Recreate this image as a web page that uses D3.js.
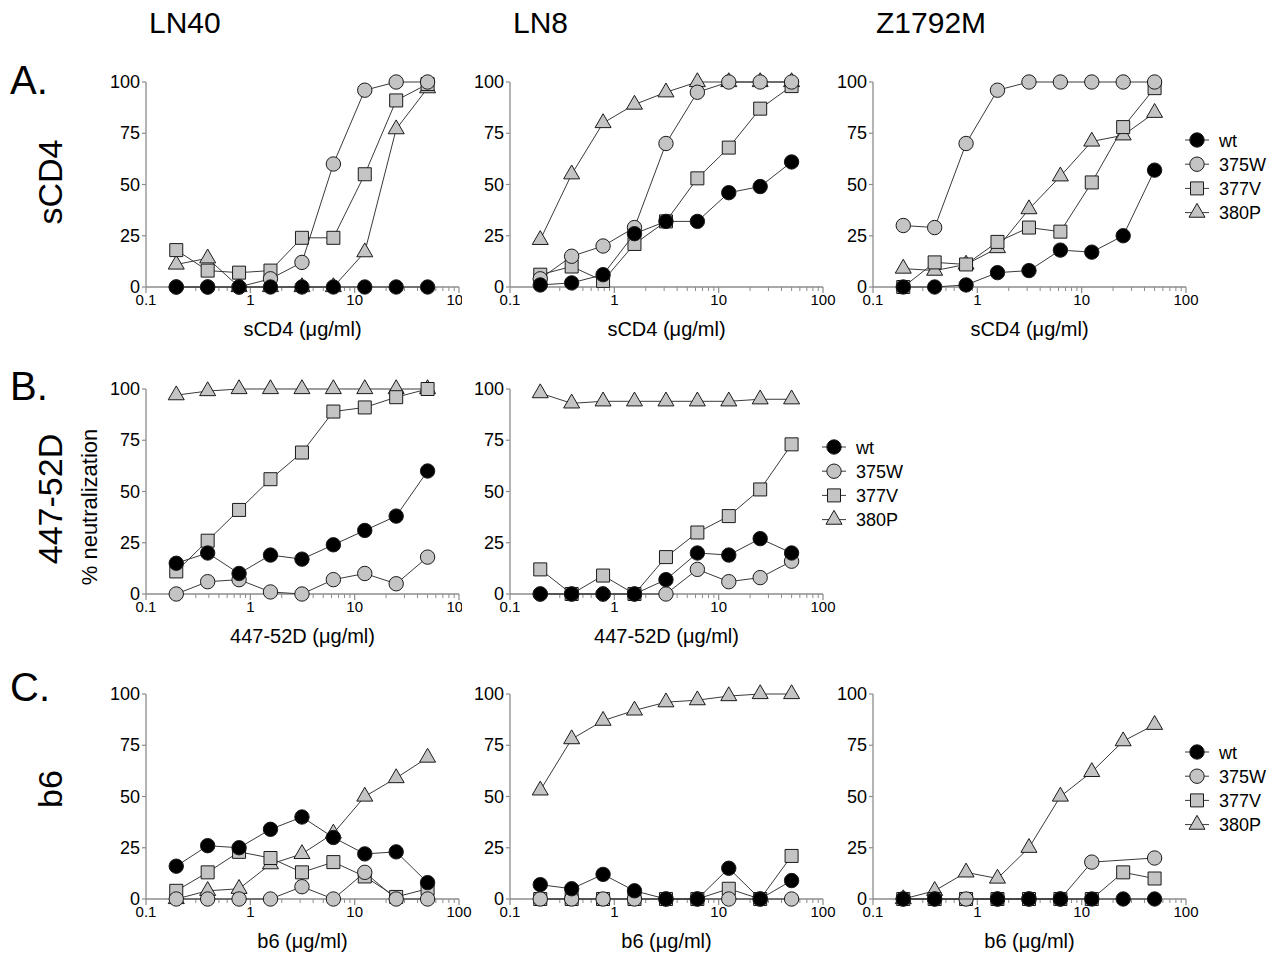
<!DOCTYPE html>
<html><head><meta charset="utf-8">
<script src="https://cdn.jsdelivr.net/npm/d3@7/dist/d3.min.js"></script>
<style>
body{margin:0;background:#fff}
svg{display:block}
text{font-family:"Liberation Sans",Arial,Helvetica,sans-serif;fill:#000}
</style>
</head><body>
<svg id="chart" width="1284" height="957"></svg>
<script>
// ---------- data ----------
const concentrations = [0.195, 0.39, 0.78, 1.56, 3.125, 6.25, 12.5, 25, 50];
const seriesNames = ["wt", "375W", "377V", "380P"];
const viruses = ["LN40", "LN8", "Z1792M"];
const reagents = ["sCD4", "447-52D", "b6"];
const rowLetters = ["A.", "B.", "C."];
const xTickValues = [0.1, 1, 10, 100];
const yTickValues = [0, 25, 50, 75, 100];

// each: [wt, 375W, 377V, 380P]
const sCD4_LN40 = [
  [0, 0, 0, 0, 0, 0, 0, 0, 0],
  [0, 0, 0, 4, 12, 60, 96, 100, 100],
  [18, 8, 7, 8, 24, 24, 55, 91, 99],
  [11, 14, 0, 0, 0, 0, 17, 77, 97]
];
const sCD4_LN8 = [
  [1, 2, 6, 26, 32, 32, 46, 49, 61],
  [4, 15, 20, 29, 70, 95, 100, 100, 100],
  [6, 10, 3, 21, 32, 53, 68, 87, 98],
  [23, 55, 80, 89, 95, 100, 100, 100, 100]
];
const sCD4_Z1792M = [
  [0, 0, 1, 7, 8, 18, 17, 25, 57],
  [30, 29, 70, 96, 100, 100, 100, 100, 100],
  [0, 12, 11, 22, 29, 27, 51, 78, 97],
  [9, 8, 11, 19, 38, 54, 71, 74, 85]
];
const mAb447_LN40 = [
  [15, 20, 10, 19, 17, 24, 31, 38, 60],
  [0, 6, 7, 1, 0, 7, 10, 5, 18],
  [11, 26, 41, 56, 69, 89, 91, 96, 100],
  [97, 99, 100, 100, 100, 100, 100, 100, 100]
];
const mAb447_LN8 = [
  [0, 0, 0, 0, 7, 20, 19, 27, 20],
  [0, 0, 0, 0, 0, 12, 6, 8, 16],
  [12, 0, 9, 0, 18, 30, 38, 51, 73],
  [98, 93, 94, 94, 94, 94, 94, 95, 95]
];
const b6_LN40 = [
  [16, 26, 25, 34, 40, 30, 22, 23, 8],
  [0, 0, 0, 0, 6, 0, 13, 0, 0],
  [4, 13, 23, 20, 13, 18, 11, 1, 5],
  [0, 4, 5, 17, 22, 32, 50, 59, 69]
];
const b6_LN8 = [
  [7, 5, 12, 4, 0, 0, 15, 0, 9],
  [0, 0, 0, 0, 0, 0, 0, 0, 0],
  [0, 0, 0, 0, 0, 0, 5, 0, 21],
  [53, 78, 87, 92, 96, 97, 99, 100, 100]
];
const b6_Z1792M = [
  [0, 0, null, 0, 0, 0, 0, 0, 0],
  [0, 0, 0, 0, 0, 0, 18, null, 20],
  [0, 0, 0, 0, 0, 0, 0, 13, 10],
  [0, 4, 13, 10, 25, 50, 62, 77, 85]
];

// ---------- layout ----------
const colX = [146, 510, 873];
const rowY = [82, 389, 694];
const PW = 313, PH = 205;
const panels = [
  {r: 0, c: 0, d: sCD4_LN40, clip: 462},
  {r: 0, c: 1, d: sCD4_LN8},
  {r: 0, c: 2, d: sCD4_Z1792M, legend: true},
  {r: 1, c: 0, d: mAb447_LN40, clip: 462},
  {r: 1, c: 1, d: mAb447_LN8, legend: true},
  {r: 2, c: 0, d: b6_LN40},
  {r: 2, c: 1, d: b6_LN8},
  {r: 2, c: 2, d: b6_Z1792M, legend: true}
];

const svg = d3.select("#chart");
const AX = "#8c8c8c";
const FILL = ["#000000", "#c4c4c4", "#c4c4c4", "#c4c4c4"];
const SYM = [
  d3.symbol().type(d3.symbolCircle).size(Math.PI * 7.2 * 7.2),
  d3.symbol().type(d3.symbolCircle).size(Math.PI * 7.2 * 7.2),
  d3.symbol().type(d3.symbolSquare).size(13 * 13),
  d3.symbol().type(d3.symbolTriangle).size(Math.sqrt(3) / 4 * 16 * 16)
];

const defs = svg.append("defs");

// column titles
viruses.forEach((v, i) => {
  svg.append("text").attr("x", colX[i] + 3).attr("y", 33)
    .attr("font-size", 30).text(v);
});
// row letters and reagent labels
const letterY = [94, 400, 701];
const reagentY = [182, 499, 789];
rowLetters.forEach((l, i) => {
  svg.append("text").attr("x", 10).attr("y", letterY[i]).attr("font-size", 40).text(l);
  svg.append("text")
    .attr("transform", `translate(62,${reagentY[i]}) rotate(-90)`)
    .attr("text-anchor", "middle").attr("font-size", 34).text(reagents[i]);
});
svg.append("text")
  .attr("transform", `translate(97,507) rotate(-90)`)
  .attr("text-anchor", "middle").attr("font-size", 22).text("% neutralization");

panels.forEach((p, pi) => {
  const x0 = colX[p.c], y0 = rowY[p.r];
  const x = d3.scaleLog().domain([0.1, 100]).range([x0, x0 + PW]);
  const y = d3.scaleLinear().domain([0, 100]).range([y0 + PH, y0]);
  let g = svg.append("g");
  if (p.clip) {
    const id = "clip" + pi;
    defs.append("clipPath").attr("id", id).append("rect")
      .attr("x", 0).attr("y", y0 - 20).attr("width", p.clip).attr("height", PH + 120);
    g.attr("clip-path", `url(#${id})`);
  }

  // x axis
  const minor = [];
  for (let e = -1; e < 2; e++) for (let k = 2; k <= 9; k++) minor.push(k * Math.pow(10, e));
  const xa = g.append("g").attr("transform", `translate(0,${y0 + PH})`);
  xa.append("line").attr("x1", x0).attr("x2", x0 + PW).attr("stroke", AX).attr("stroke-width", 1.3);
  xa.selectAll(".mn").data(minor).join("line")
    .attr("x1", d => x(d)).attr("x2", d => x(d)).attr("y1", 0).attr("y2", 4)
    .attr("stroke", AX).attr("stroke-width", 1);
  xa.selectAll(".mj").data(xTickValues).join("line")
    .attr("x1", d => x(d)).attr("x2", d => x(d)).attr("y1", 0).attr("y2", 6)
    .attr("stroke", AX).attr("stroke-width", 1.2);
  xa.selectAll(".xl").data(xTickValues).join("text")
    .attr("x", d => x(d)).attr("y", 18).attr("text-anchor", "middle")
    .attr("font-size", 15).text(d => d3.format("~g")(d));

  // y axis
  const ya = g.append("g");
  ya.append("line").attr("x1", x0).attr("x2", x0).attr("y1", y(0)).attr("y2", y(100))
    .attr("stroke", AX).attr("stroke-width", 1.3);
  ya.selectAll(".yt").data(yTickValues).join("line")
    .attr("x1", x0 - 4).attr("x2", x0).attr("y1", d => y(d)).attr("y2", d => y(d))
    .attr("stroke", AX).attr("stroke-width", 1.2);
  ya.selectAll(".yl").data(yTickValues).join("text")
    .attr("x", x0 - 6).attr("y", d => y(d) + 6).attr("text-anchor", "end")
    .attr("font-size", 18).text(d => d);

  // axis title
  g.append("text").attr("x", x0 + PW / 2).attr("y", y0 + PH + 49)
    .attr("text-anchor", "middle").attr("font-size", 20)
    .text(reagents[p.r] + " (\u03bcg/ml)");

  // series: draw last dataset first so wt ends on top
  const line = d3.line().x(d => x(d[0])).y(d => y(d[1]));
  for (let s = 3; s >= 0; s--) {
    const pts = concentrations.map((c, i) => [c, p.d[s][i]]).filter(d => d[1] !== null);
    const sg = g.append("g");
    sg.append("path").attr("d", line(pts)).attr("fill", "none")
      .attr("stroke", "#3a3a3a").attr("stroke-width", 1);
    sg.selectAll("path.m").data(pts).join("path").attr("class", "m")
      .attr("transform", d => `translate(${x(d[0])},${y(d[1])})`)
      .attr("d", SYM[s]()).attr("fill", FILL[s])
      .attr("stroke", "#1a1a1a").attr("stroke-width", 1);
  }

  // legend
  if (p.legend) {
    const lx = x0 + PW + 11, ly = y0 + 58;
    seriesNames.forEach((n, s) => {
      const yy = ly + s * 24.2;
      svg.append("line").attr("x1", lx - 12).attr("x2", lx + 12).attr("y1", yy).attr("y2", yy)
        .attr("stroke", "#3a3a3a").attr("stroke-width", 1);
      svg.append("path").attr("transform", `translate(${lx},${yy})`)
        .attr("d", SYM[s]()).attr("fill", FILL[s]).attr("stroke", "#1a1a1a").attr("stroke-width", 1);
      svg.append("text").attr("x", lx + 22).attr("y", yy + 6.5).attr("font-size", 18).text(n);
    });
  }
});
</script>
</body></html>
